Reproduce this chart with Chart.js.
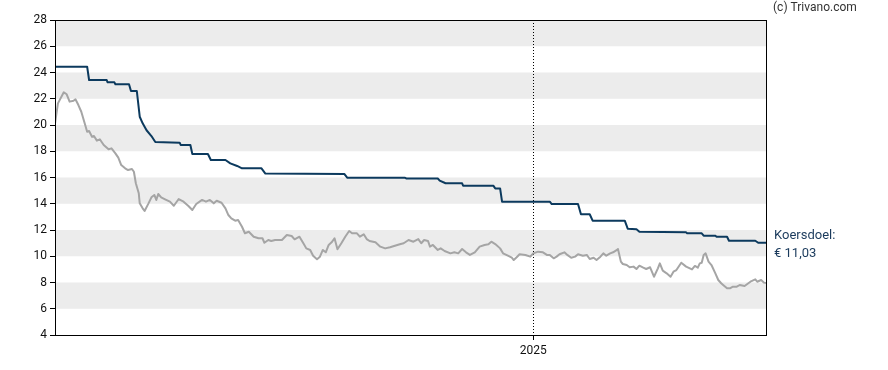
<!DOCTYPE html>
<html>
<head>
<meta charset="utf-8">
<script src="https://cdn.jsdelivr.net/npm/chart.js@4/dist/chart.umd.min.js"></script>
<style>
  html, body { margin: 0; padding: 0; background: #fff; }
  #wrap { width: 888px; height: 370px; }
</style>
</head>
<body>
<div id="wrap"><canvas id="koersChart" width="888" height="370"></canvas></div>
<script>
// Days since start of the window (about two years, ending late August 2025)
const priceDays = [0, 3, 9, 12, 15, 19, 21, 24, 27, 31, 33, 35, 38, 40, 43, 46, 50, 55, 58, 62, 65, 68, 72, 75, 79, 81, 83, 86, 87, 90, 92, 96, 99, 102, 104, 106, 109, 113, 118, 122,
  127, 132, 137, 141, 145, 151, 155, 159, 163, 166, 171, 175, 178, 181, 185, 188, 192, 195, 199, 204, 209, 213, 215, 219, 222, 226, 233, 238, 243, 246,
  251, 255, 258, 262, 265, 269, 272, 275, 278, 281, 284, 287, 290, 294, 298, 302, 305, 310, 313, 317, 320, 323, 329, 334, 339, 344, 349, 354, 358, 363, 368,
  373, 376, 379, 383, 385, 388, 393, 396, 400, 406, 410, 414, 418, 422, 426, 431, 436, 441, 445, 448, 452, 457, 460, 465, 469, 471, 474, 477, 483, 488, 491,
  496, 501, 505, 508, 512, 515, 518, 523, 526, 530, 534, 537, 542, 546, 549, 553, 556, 560, 563, 566, 570, 573, 577, 578, 581, 583, 587, 590, 594, 597, 600, 604, 607, 611, 615,
  619, 621, 624, 628, 632, 635, 638, 643, 648, 654, 657, 660, 662, 664, 666, 668, 671, 674, 678, 681, 684, 686, 690, 693, 696, 700, 703, 708, 714, 719, 721, 725, 728, 730];
const priceValues = [20.1, 21.65, 22.49, 22.34, 21.78, 21.85, 21.96, 21.52, 21.01, 20.0, 19.49, 19.54, 19.11, 19.16, 18.81, 18.91, 18.48, 18.15, 18.22, 17.84, 17.51, 16.95, 16.70, 16.57, 16.65, 16.44, 15.56, 14.80, 14.03, 13.65, 13.45, 14.03, 14.49, 14.67, 14.29, 14.74, 14.49, 14.34, 14.16, 13.85,
  14.36, 14.16, 13.83, 13.52, 13.98, 14.29, 14.16, 14.29, 14.03, 14.23, 14.08, 13.65, 13.14, 12.89, 12.71, 12.76, 12.25, 11.75, 11.87, 11.49, 11.37, 11.37, 11.03, 11.24, 11.16, 11.24, 11.24, 11.62, 11.54, 11.29,
  11.49, 10.99, 10.60, 10.48, 10.04, 9.77, 9.97, 10.48, 10.30, 10.86, 11.06, 11.37, 10.53, 10.99, 11.49, 11.92, 11.75, 11.75, 11.49, 11.67, 11.31, 11.16, 11.06, 10.73, 10.60, 10.68, 10.80, 10.91, 10.99, 11.24, 11.11,
  11.31, 10.99, 11.24, 11.16, 10.73, 10.86, 10.48, 10.60, 10.40, 10.22, 10.30, 10.22, 10.55, 10.30, 10.10, 10.30, 10.73, 10.86, 10.91, 11.11, 10.93, 10.60, 10.22, 10.04, 9.89, 9.71, 9.92, 10.15, 10.10, 9.97, 10.22,
  10.35, 10.30, 10.10, 10.10, 9.84, 9.97, 10.15, 10.30, 10.10, 9.89, 9.97, 10.15, 10.04, 10.10, 9.79, 9.89, 9.71, 9.97, 10.22, 10.04, 10.22, 10.30, 10.48, 10.55, 9.59, 9.41, 9.33, 9.16, 9.21, 9.03, 9.28, 9.13, 9.03, 9.16, 8.44,
  9.08, 9.46, 8.90, 8.70, 8.44, 8.82, 8.95, 9.51, 9.21, 9.00, 9.26, 9.13, 9.46, 9.51, 10.10, 10.22, 9.59, 9.33, 8.70, 8.19, 7.94, 7.81, 7.56, 7.56, 7.68, 7.68, 7.81, 7.73, 8.06, 8.24, 8.06, 8.19, 7.99, 7.95];

// Analyst target price (koersdoel), points on both sides of each change
const targetDays = [0, 33, 35, 53, 54, 61, 62, 76, 78, 84, 87, 90, 94, 99, 103, 128, 129, 139, 141, 157, 160, 175, 180, 187, 192, 212, 216, 297, 300, 359, 361,
  393, 395, 401, 418, 419, 450, 452, 457, 459, 508, 510, 537, 540, 549, 552, 585, 588, 597, 600, 648, 649, 664, 666, 678, 679, 690, 692, 719, 722, 730];
const targetValues = [24.44, 24.44, 23.43, 23.43, 23.25, 23.25, 23.1, 23.1, 22.59, 22.59, 20.63, 20.13, 19.6, 19.16, 18.7, 18.65, 18.48, 18.48, 17.79, 17.79, 17.33, 17.33, 17.08, 16.88, 16.70, 16.70, 16.3, 16.27, 15.99, 15.99, 15.92,
  15.92, 15.76, 15.56, 15.56, 15.38, 15.38, 15.17, 15.17, 14.16, 14.16, 13.98, 13.98, 13.2, 13.2, 12.71, 12.71, 12.1, 12.05, 11.87, 11.82, 11.75, 11.75, 11.57, 11.57, 11.49, 11.49, 11.18, 11.18, 11.03, 11.03];

const yTickValues = [4, 6, 8, 10, 12, 14, 16, 18, 20, 22, 24, 26, 28];
const yearTicks = [{ day: 491, label: '2025' }];
const lastTarget = '€ 11,03';

const toPoints = (days, vals) => days.map((d, i) => ({ x: d, y: vals[i] }));

// gray bands, frame and side texts
const decorPlugin = {
    id: 'decor',
    beforeDraw(chart) {
        const { ctx, chartArea: a, scales: { y } } = chart;
        ctx.save();
        ctx.fillStyle = '#ececec';
        for (let i = 1; i < yTickValues.length - 1; i += 2) {
            const top = y.getPixelForValue(yTickValues[i + 1]);
            const bottom = y.getPixelForValue(yTickValues[i]);
            ctx.fillRect(a.left, top, a.right - a.left, bottom - top);
        }
        ctx.restore();
    },
    afterDraw(chart) {
        const { ctx, chartArea: a, scales: { y } } = chart;
        ctx.save();
        ctx.strokeStyle = '#000';
        ctx.lineWidth = 1;
        ctx.strokeRect(Math.round(a.left) + 0.5, Math.round(a.top) + 0.5, Math.round(a.right - a.left), Math.round(a.bottom - a.top));

        ctx.fillStyle = '#333';
        ctx.font = '12px Roboto';
        ctx.textBaseline = 'middle';
        ctx.textAlign = 'left';
        ctx.fillText('(c) Trivano.com', a.right + 7, 8);

        const yt = y.getPixelForValue(targetValues[targetValues.length - 1]);
        ctx.fillStyle = '#1a3a5c';
        ctx.font = '13px Roboto';
        ctx.fillText('Koersdoel:', a.right + 8, yt - 7);
        ctx.fillText(lastTarget, a.right + 8, yt + 11);
        ctx.restore();
    }
};

new Chart(document.getElementById('koersChart'), {
    type: 'line',
    data: {
        datasets: [{
            label: 'Koers',
            data: toPoints(priceDays, priceValues),
            borderColor: '#a5a5a5',
            borderWidth: 2,
            pointRadius: 0,
            tension: 0,
            borderJoinStyle: 'round'
        }, {
            label: 'Koersdoel',
            data: toPoints(targetDays, targetValues),
            borderColor: '#0c3a5e',
            borderWidth: 2,
            pointRadius: 0,
            tension: 0,
            borderJoinStyle: 'round'
        }]
    },
    options: {
        responsive: false,
        animation: false,
        devicePixelRatio: 1,
        layout: { padding: { left: 0, right: 122, top: 20, bottom: 0 } },
        plugins: { legend: { display: false }, tooltip: { enabled: false } },
        scales: {
            x: {
                type: 'linear',
                min: 0,
                max: 730,
                afterFit: (scale) => { scale.height = 35; },
                afterBuildTicks: (scale) => { scale.ticks = yearTicks.map(t => ({ value: t.day })); },
                ticks: {
                    autoSkip: false,
                    maxRotation: 0,
                    padding: 4,
                    color: '#111',
                    font: { family: 'Roboto', size: 12 },
                    callback: (v) => {
                        const t = yearTicks.find(t => t.day === v);
                        return t ? t.label : '';
                    }
                },
                grid: { color: '#000', lineWidth: 1, tickLength: 5, drawOnChartArea: true },
                border: { color: '#000', width: 1, dash: [1, 2] }
            },
            y: {
                min: 4,
                max: 28,
                afterFit: (scale) => { scale.width = 55; },
                afterBuildTicks: (scale) => { scale.ticks = yTickValues.map(v => ({ value: v })); },
                ticks: {
                    padding: 3,
                    color: '#111',
                    font: { family: 'Roboto', size: 12 }
                },
                grid: { color: '#000', tickLength: 5, drawOnChartArea: false },
                border: { color: '#000', width: 1 }
            }
        }
    },
    plugins: [decorPlugin]
});
</script>
</body>
</html>
